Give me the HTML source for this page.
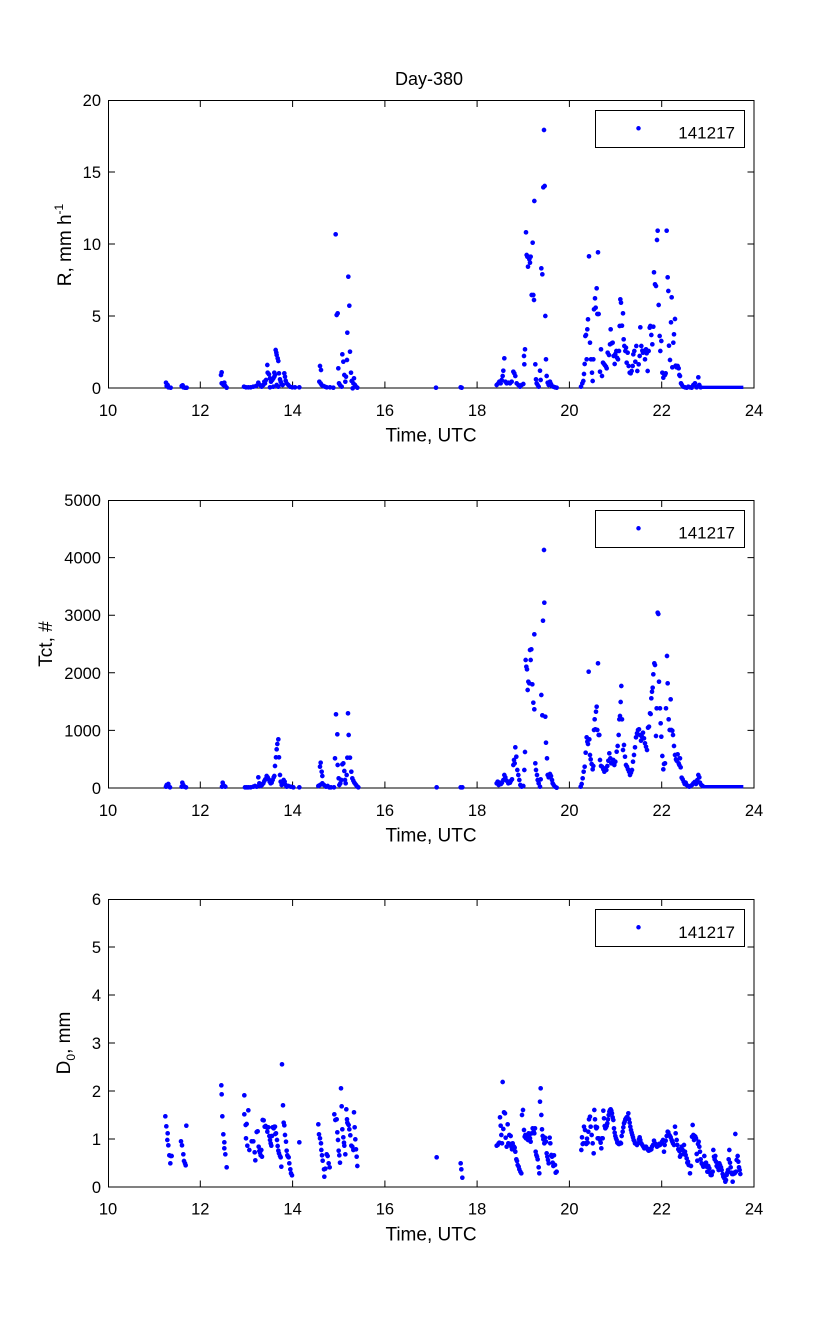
<!DOCTYPE html>
<html><head><meta charset="utf-8"><style>
html,body{margin:0;padding:0;background:#fff;}
svg{display:block;}
text{font-family:"Liberation Sans",Arial,sans-serif;fill:#000;}
.tk{font-size:16.5px;}
.lb{font-size:19px;}
.pts{fill:none;stroke:#0000ff;stroke-width:14;stroke-linecap:round;}
</style></head><body>
<svg width="833" height="1334" viewBox="0 0 833 1334" xmlns="http://www.w3.org/2000/svg">
<rect width="833" height="1334" fill="#fff"/>
<text x="429" y="85" font-size="18" text-anchor="middle">Day-380</text>

<!-- ===== Plot 1 ===== -->
<g stroke="#000" stroke-width="1" fill="none">
<rect x="108.5" y="100.5" width="645.5" height="287.5"/>
<path d="M200.3 388v-6.5M292.6 388v-6.5M384.9 388v-6.5M477.1 388v-6.5M569.4 388v-6.5M661.7 388v-6.5M200.3 100.5v6.5M292.6 100.5v6.5M384.9 100.5v6.5M477.1 100.5v6.5M569.4 100.5v6.5M661.7 100.5v6.5M108.5 316h6.5M108.5 244h6.5M108.5 172h6.5M754 316h-6.5M754 244h-6.5M754 172h-6.5"/>
</g>
<g class="tk" text-anchor="end"><text x="101" y="394">0</text><text x="101" y="322">5</text><text x="101" y="250">10</text><text x="101" y="178">15</text><text x="101" y="106">20</text></g>
<g class="tk" text-anchor="middle"><text x="108" y="416">10</text><text x="200.3" y="416">12</text><text x="292.6" y="416">14</text><text x="384.9" y="416">16</text><text x="477.1" y="416">18</text><text x="569.4" y="416">20</text><text x="661.7" y="416">22</text><text x="754" y="416">24</text></g>
<text class="lb" x="431" y="441.5" text-anchor="middle">Time, UTC</text>
<text class="lb" transform="translate(71,245) rotate(-90)" text-anchor="middle">R, mm h<tspan dy="-8" font-size="12">-1</tspan></text>
<rect x="595.5" y="110.5" width="149" height="37" fill="#fff" stroke="#000"/>
<path class="pts" d="M638.5 128.3h0" style="stroke-width:4.5"/>
<text x="735" y="138.5" font-size="17" text-anchor="end">141217</text>

<g transform="translate(40,60) scale(0.33333)">
<path class="pts" d="M378 968h0M380 978h0M385 982h0M392 983h0M383 975h0M425 978h0M430 982h0M435 983h0M440 983h0M428 976h0M545 937h0M543 945h0M545 970h0M550 975h0M553 968h0M556 978h0M560 983h0M612 980h0M618 982h0M625 982h0M632 982h0M640 980h0M648 978h0M655 968h0M660 975h0M665 980h0M670 975h0M673 965h0M682 915h0M683 938h0M687 943h0M690 955h0M678 960h0M675 970h0M693 965h0M697 960h0M700 955h0M703 950h0M705 945h0M703 938h0M707 870h0M709 878h0M710 885h0M713 895h0M715 903h0M717 940h0M720 958h0M722 965h0M725 972h0M728 975h0M733 940h0M735 950h0M737 962h0M740 970h0M745 975h0M750 980h0M757 982h0M765 982h0M778 982h0M690 982h0M700 980h0M710 975h0M715 980h0M840 918h0M843 930h0M838 965h0M842 970h0M845 975h0M850 978h0M855 980h0M860 982h0M870 982h0M880 983h0M887 523h0M890 765h0M893 760h0M895 925h0M897 970h0M900 975h0M905 980h0M907 883h0M910 905h0M913 945h0M916 965h0M918 950h0M921 900h0M925 650h0M928 737h0M922 818h0M930 875h0M933 938h0M935 963h0M940 970h0M942 955h0M945 975h0M948 980h0M938 985h0M952 983h0M1188 983h0"/>
</g>
<g transform="translate(440,60) scale(0.33333)">
<rect x="780" y="977" width="130" height="10" fill="#0000ff"/>
<path class="pts" d="M62 982h0M65 983h0M170 975h0M175 970h0M178 965h0M182 970h0M185 960h0M188 948h0M190 932h0M193 895h0M196 965h0M200 970h0M205 968h0M210 970h0M215 965h0M220 935h0M223 940h0M226 948h0M230 970h0M235 975h0M240 980h0M245 975h0M250 972h0M252 888h0M253 913h0M255 868h0M258 517h0M260 585h0M262 590h0M264 620h0M266 590h0M268 598h0M270 608h0M272 590h0M275 705h0M278 548h0M280 705h0M282 720h0M283 423h0M286 913h0M288 958h0M290 970h0M293 975h0M296 980h0M300 932h0M302 960h0M304 625h0M307 643h0M310 382h0M312 210h0M314 378h0M316 768h0M318 898h0M320 948h0M323 968h0M326 975h0M330 965h0M333 972h0M336 978h0M340 980h0M345 982h0M350 983h0M423 980h0M427 970h0M430 963h0M432 942h0M434 912h0M436 828h0M438 825h0M440 898h0M442 808h0M444 778h0M447 589h0M450 848h0M453 898h0M456 938h0M458 963h0M460 898h0M462 748h0M465 715h0M467 743h0M470 685h0M472 762h0M474 577h0M476 762h0M480 935h0M483 868h0M486 948h0M489 908h0M492 912h0M495 916h0M498 920h0M500 925h0M503 878h0M507 885h0M510 853h0M512 808h0M515 850h0M518 848h0M521 888h0M524 912h0M526 882h0M529 873h0M531 893h0M534 898h0M537 873h0M539 798h0M541 718h0M543 728h0M546 797h0M549 760h0M551 838h0M553 858h0M556 873h0M558 863h0M560 908h0M563 878h0M566 918h0M569 938h0M572 940h0M575 933h0M578 918h0M580 883h0M583 873h0M586 905h0M589 858h0M592 933h0M596 913h0M599 888h0M601 802h0M604 858h0M607 872h0M609 878h0M612 873h0M615 898h0M618 868h0M620 880h0M623 933h0M626 873h0M629 803h0M631 798h0M634 825h0M637 853h0M640 800h0M642 637h0M645 673h0M648 678h0M651 540h0M653 512h0M656 735h0M659 828h0M661 873h0M664 843h0M667 938h0M670 953h0M672 942h0M675 945h0M677 940h0M680 512h0M683 652h0M685 693h0M687 857h0M690 900h0M693 787h0M695 712h0M697 922h0M700 848h0M702 823h0M705 777h0M707 917h0M710 922h0M713 918h0M716 925h0M718 945h0M720 948h0M723 970h0M726 975h0M730 980h0M735 982h0M740 983h0M745 980h0M750 982h0M755 983h0M760 975h0M765 970h0M770 982h0M775 952h0M778 975h0M782 982h0"/>
</g>

<!-- ===== Plot 2 ===== -->
<g stroke="#000" stroke-width="1" fill="none">
<rect x="108.5" y="500.5" width="645.5" height="287.5"/>
<path d="M200.3 788v-6.5M292.6 788v-6.5M384.9 788v-6.5M477.1 788v-6.5M569.4 788v-6.5M661.7 788v-6.5M200.3 500.5v6.5M292.6 500.5v6.5M384.9 500.5v6.5M477.1 500.5v6.5M569.4 500.5v6.5M661.7 500.5v6.5M108.5 730.4h6.5M108.5 672.8h6.5M108.5 615.2h6.5M108.5 557.6h6.5M754 730.4h-6.5M754 672.8h-6.5M754 615.2h-6.5M754 557.6h-6.5"/>
</g>
<g class="tk" text-anchor="end"><text x="101" y="794">0</text><text x="101" y="736.4">1000</text><text x="101" y="678.8">2000</text><text x="101" y="621.2">3000</text><text x="101" y="563.6">4000</text><text x="101" y="506">5000</text></g>
<g class="tk" text-anchor="middle"><text x="108" y="816">10</text><text x="200.3" y="816">12</text><text x="292.6" y="816">14</text><text x="384.9" y="816">16</text><text x="477.1" y="816">18</text><text x="569.4" y="816">20</text><text x="661.7" y="816">22</text><text x="754" y="816">24</text></g>
<text class="lb" x="431" y="841.5" text-anchor="middle">Time, UTC</text>
<text class="lb" transform="translate(52,644) rotate(-90)" text-anchor="middle">Tct, #</text>
<rect x="595.5" y="510.5" width="149" height="37" fill="#fff" stroke="#000"/>
<path class="pts" d="M638.5 528.3h0" style="stroke-width:4.5"/>
<text x="735" y="538.5" font-size="17" text-anchor="end">141217</text>

<g transform="translate(100,490) scale(0.33333)">
<path class="pts" d="M200 885h0M203 888h0M207 890h0M210 892h0M198 890h0M205 882h0M247 878h0M250 885h0M253 890h0M258 892h0M245 890h0M368 878h0M370 885h0M373 888h0M376 890h0M366 890h0M435 892h0M440 892h0M445 892h0M452 892h0M460 890h0M465 888h0M470 890h0M475 862h0M478 880h0M482 888h0M486 885h0M490 880h0M493 873h0M496 868h0M500 858h0M503 862h0M506 868h0M509 875h0M512 880h0M515 878h0M518 870h0M521 862h0M523 858h0M525 828h0M528 802h0M530 778h0M532 762h0M535 748h0M537 802h0M540 855h0M542 875h0M545 885h0M548 880h0M551 870h0M554 875h0M557 885h0M560 890h0M565 888h0M572 890h0M580 892h0M598 892h0M660 830h0M662 818h0M665 845h0M667 858h0M655 888h0M660 885h0M667 880h0M672 885h0M678 890h0M683 888h0M688 892h0M693 892h0M702 892h0M705 805h0M708 673h0M712 733h0M713 825h0M716 865h0M718 885h0M721 880h0M724 870h0M727 823h0M730 820h0M733 843h0M735 870h0M737 880h0M740 855h0M742 803h0M744 670h0M746 735h0M750 803h0M754 845h0M757 865h0M760 872h0M763 878h0M766 882h0M769 886h0M772 890h0M775 892h0M1010 892h0"/>
</g>
<g transform="translate(440,490) scale(0.33333)">
<rect x="785" y="885" width="125" height="10" fill="#0000ff"/>
<path class="pts" d="M62 892h0M67 892h0M170 880h0M173 875h0M176 885h0M180 878h0M183 882h0M186 878h0M190 870h0M193 855h0M196 862h0M200 872h0M205 880h0M210 878h0M213 872h0M216 868h0M220 825h0M222 810h0M224 820h0M226 772h0M229 800h0M232 840h0M235 855h0M238 870h0M241 885h0M245 890h0M250 888h0M253 840h0M255 786h0M257 510h0M259 530h0M261 538h0M263 600h0M265 575h0M268 580h0M270 480h0M272 510h0M274 478h0M277 583h0M280 638h0M283 658h0M283 433h0M286 820h0M288 840h0M291 855h0M293 870h0M296 880h0M300 890h0M302 868h0M304 615h0M307 676h0M309 392h0M312 180h0M313 338h0M316 680h0M318 758h0M321 805h0M323 855h0M326 862h0M330 852h0M333 858h0M336 870h0M338 880h0M341 885h0M345 890h0M350 893h0M422 890h0M425 882h0M428 865h0M431 845h0M434 830h0M437 788h0M440 742h0M442 755h0M444 762h0M446 545h0M448 748h0M450 795h0M452 808h0M455 822h0M458 838h0M460 828h0M462 720h0M464 688h0M466 718h0M468 665h0M470 650h0M472 720h0M474 520h0M476 735h0M478 735h0M480 810h0M483 828h0M486 830h0M490 838h0M493 845h0M496 835h0M499 840h0M502 828h0M505 812h0M508 790h0M511 805h0M514 820h0M517 818h0M520 810h0M523 825h0M526 815h0M530 785h0M533 768h0M536 735h0M538 688h0M540 678h0M542 636h0M544 588h0M546 688h0M549 780h0M552 765h0M555 800h0M558 825h0M561 830h0M564 838h0M567 845h0M570 855h0M573 848h0M576 840h0M579 815h0M582 795h0M585 772h0M588 742h0M591 730h0M594 720h0M597 718h0M600 735h0M603 752h0M606 740h0M609 728h0M612 745h0M615 760h0M618 770h0M621 780h0M624 713h0M627 710h0M630 670h0M632 672h0M634 625h0M636 605h0M638 593h0M640 553h0M643 520h0M645 525h0M648 738h0M650 655h0M653 368h0M655 372h0M657 575h0M660 655h0M662 700h0M664 740h0M667 798h0M670 838h0M672 822h0M675 820h0M678 655h0M681 498h0M683 580h0M686 688h0M689 720h0M692 628h0M694 720h0M697 722h0M699 735h0M702 768h0M705 795h0M708 808h0M710 812h0M713 793h0M716 820h0M718 825h0M720 805h0M722 832h0M725 863h0M728 868h0M731 875h0M734 882h0M737 878h0M740 885h0M744 888h0M748 890h0M752 888h0M756 885h0M760 880h0M764 876h0M768 882h0M772 870h0M775 855h0M778 862h0M780 878h0M784 885h0M788 888h0"/>
</g>

<!-- ===== Plot 3 ===== -->
<g stroke="#000" stroke-width="1" fill="none">
<rect x="108.5" y="899.5" width="645.5" height="287.5"/>
<path d="M200.3 1187v-6.5M292.6 1187v-6.5M384.9 1187v-6.5M477.1 1187v-6.5M569.4 1187v-6.5M661.7 1187v-6.5M200.3 899.5v6.5M292.6 899.5v6.5M384.9 899.5v6.5M477.1 899.5v6.5M569.4 899.5v6.5M661.7 899.5v6.5M108.5 1139h6.5M108.5 1091h6.5M108.5 1043h6.5M108.5 995h6.5M108.5 947h6.5M754 1139h-6.5M754 1091h-6.5M754 1043h-6.5M754 995h-6.5M754 947h-6.5"/>
</g>
<g class="tk" text-anchor="end"><text x="101" y="1193">0</text><text x="101" y="1145">1</text><text x="101" y="1097">2</text><text x="101" y="1049">3</text><text x="101" y="1001">4</text><text x="101" y="953">5</text><text x="101" y="905">6</text></g>
<g class="tk" text-anchor="middle"><text x="108" y="1214.5">10</text><text x="200.3" y="1214.5">12</text><text x="292.6" y="1214.5">14</text><text x="384.9" y="1214.5">16</text><text x="477.1" y="1214.5">18</text><text x="569.4" y="1214.5">20</text><text x="661.7" y="1214.5">22</text><text x="754" y="1214.5">24</text></g>
<text class="lb" x="431" y="1240.5" text-anchor="middle">Time, UTC</text>
<text class="lb" transform="translate(70,1043) rotate(-90)" text-anchor="middle">D<tspan dy="5" font-size="12">0</tspan><tspan dy="-5">, mm</tspan></text>
<rect x="595.5" y="909.5" width="149" height="37" fill="#fff" stroke="#000"/>
<path class="pts" d="M638.5 927.3h0" style="stroke-width:4.5"/>
<text x="735" y="938" font-size="17" text-anchor="end">141217</text>

<g transform="translate(100,880) scale(0.33333)">
<path class="pts" d="M196 709h0M199 739h0M203 760h0M202 780h0M205 796h0M208 826h0M212 828h0M215 828h0M211 850h0M243 784h0M246 796h0M250 823h0M252 843h0M255 850h0M257 856h0M259 737h0M364 616h0M365 643h0M367 709h0M370 763h0M373 787h0M373 805h0M376 823h0M380 862h0M433 646h0M433 703h0M437 735h0M440 732h0M445 691h0M438 775h0M442 797h0M448 810h0M455 784h0M460 784h0M464 817h0M466 841h0M470 756h0M473 754h0M476 800h0M478 813h0M480 818h0M482 826h0M484 810h0M486 830h0M488 720h0M491 721h0M494 740h0M497 738h0M500 742h0M502 755h0M505 742h0M508 768h0M510 780h0M512 790h0M514 797h0M516 768h0M518 742h0M521 745h0M523 740h0M525 740h0M526 762h0M528 760h0M531 780h0M533 798h0M535 812h0M537 820h0M540 828h0M542 832h0M544 860h0M546 553h0M549 676h0M551 728h0M553 736h0M555 765h0M558 785h0M560 812h0M562 826h0M564 830h0M566 832h0M568 850h0M571 868h0M573 880h0M576 886h0M598 787h0M655 733h0M657 763h0M660 775h0M663 790h0M664 810h0M666 826h0M668 842h0M672 868h0M676 866h0M673 890h0M680 823h0M683 828h0M686 850h0M689 862h0M703 703h0M706 720h0M710 718h0M712 757h0M714 780h0M716 812h0M718 826h0M720 848h0M723 625h0M725 679h0M727 748h0M730 772h0M732 788h0M733 797h0M736 823h0M739 688h0M741 718h0M742 728h0M744 732h0M746 735h0M748 748h0M751 766h0M754 797h0M757 800h0M760 810h0M762 697h0M764 742h0M766 778h0M768 808h0M770 830h0M772 858h0M1010 832h0"/>
</g>
<g transform="translate(440,880) scale(0.33333)">
<path class="pts" d="M62 850h0M64 868h0M67 893h0M170 797h0M173 795h0M176 790h0M178 788h0M180 712h0M182 737h0M184 765h0M186 790h0M188 606h0M190 747h0M192 697h0M195 700h0M197 773h0M200 800h0M203 733h0M205 790h0M208 765h0M210 792h0M212 768h0M214 800h0M216 808h0M218 790h0M220 798h0M222 800h0M224 803h0M226 815h0M229 838h0M231 843h0M233 855h0M236 860h0M238 868h0M241 875h0M244 880h0M246 705h0M249 690h0M252 750h0M254 770h0M256 765h0M258 775h0M260 768h0M262 772h0M264 780h0M266 760h0M268 765h0M270 775h0M272 785h0M275 760h0M278 745h0M281 755h0M283 760h0M285 745h0M287 815h0M289 825h0M291 830h0M293 838h0M296 862h0M298 880h0M300 665h0M302 625h0M304 705h0M306 748h0M308 768h0M310 778h0M313 790h0M315 773h0M318 785h0M320 820h0M322 830h0M324 840h0M326 850h0M329 773h0M331 790h0M334 825h0M336 830h0M338 848h0M340 858h0M342 826h0M345 855h0M347 878h0M350 875h0M424 810h0M426 772h0M428 792h0M430 790h0M432 740h0M435 750h0M437 790h0M439 792h0M441 776h0M443 788h0M445 755h0M447 718h0M450 710h0M452 740h0M455 765h0M458 790h0M461 820h0M463 690h0M465 718h0M467 740h0M469 745h0M471 742h0M473 775h0M476 775h0M480 780h0M482 788h0M484 805h0M486 775h0M488 775h0M490 692h0M492 715h0M494 738h0M496 745h0M498 742h0M500 738h0M502 730h0M504 718h0M506 705h0M508 695h0M510 690h0M512 688h0M514 692h0M516 700h0M518 712h0M520 720h0M522 745h0M524 758h0M526 768h0M528 775h0M530 780h0M532 788h0M534 790h0M536 792h0M538 792h0M541 788h0M543 790h0M545 768h0M548 755h0M550 742h0M552 730h0M554 725h0M556 718h0M558 715h0M560 712h0M562 710h0M565 700h0M567 718h0M569 728h0M571 740h0M573 750h0M575 758h0M577 765h0M579 772h0M581 780h0M583 783h0M585 790h0M588 792h0M591 795h0M594 790h0M597 778h0M599 772h0M601 780h0M604 790h0M607 795h0M610 800h0M613 805h0M616 802h0M618 800h0M621 805h0M624 810h0M626 812h0M628 808h0M631 810h0M634 808h0M636 800h0M639 795h0M642 782h0M645 790h0M648 795h0M651 800h0M654 798h0M657 792h0M660 795h0M663 790h0M666 785h0M669 780h0M672 815h0M674 795h0M677 782h0M680 768h0M683 755h0M685 757h0M688 765h0M690 768h0M692 772h0M695 780h0M697 785h0M699 790h0M702 795h0M705 740h0M707 760h0M710 780h0M712 795h0M715 808h0M718 813h0M720 830h0M722 825h0M725 800h0M728 810h0M730 822h0M732 795h0M735 815h0M737 825h0M740 835h0M742 848h0M744 845h0M746 855h0M750 880h0M753 858h0M756 770h0M758 735h0M760 765h0M762 780h0M764 768h0M766 770h0M768 775h0M770 822h0M772 842h0M774 792h0M776 785h0M778 800h0M780 815h0M782 838h0M785 850h0M788 855h0M790 860h0M793 828h0M795 852h0M798 848h0M800 860h0M802 875h0M805 858h0M808 865h0M810 878h0M812 885h0M815 885h0M818 875h0M820 810h0M822 830h0M824 838h0M826 828h0M828 845h0M830 858h0M833 862h0M836 870h0M838 850h0M840 855h0M843 862h0M845 870h0M848 882h0M850 890h0M853 895h0M856 905h0M858 900h0M860 885h0M862 878h0M864 870h0M866 838h0M868 810h0M870 848h0M872 862h0M874 878h0M876 882h0M878 905h0M880 882h0M882 878h0M884 880h0M886 762h0M888 875h0M890 840h0M893 828h0M895 845h0M897 862h0M899 870h0M901 882h0"/>
</g>
</svg>
</body></html>
